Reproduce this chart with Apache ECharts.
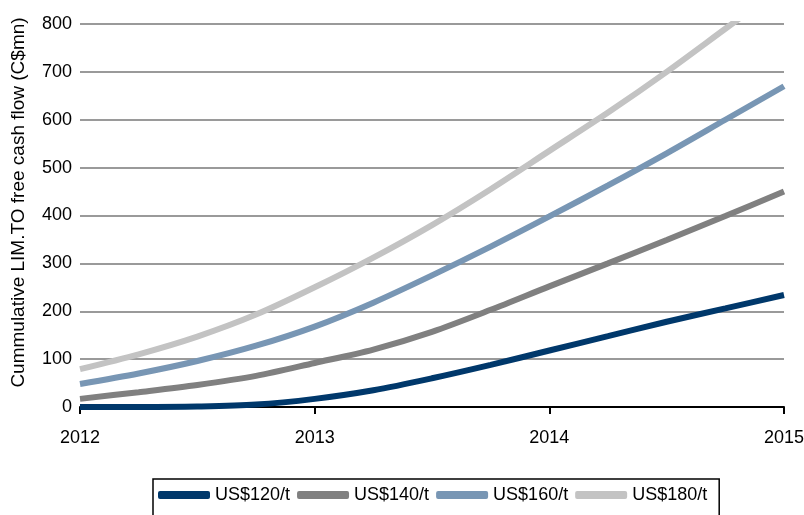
<!DOCTYPE html>
<html>
<head>
<meta charset="utf-8">
<script src="https://cdn.jsdelivr.net/npm/echarts@6/dist/echarts.min.js"></script>
<style>
  html, body { margin: 0; padding: 0; background: #fff; }
  #chart { width: 804px; height: 515px; }
</style>
</head>
<body>
<div id="chart"></div>
<script>
// quarterly points, years on the x axis
const quarters = [2012, 2012.25, 2012.5, 2012.75, 2013, 2013.25, 2013.5, 2013.75, 2014, 2014.25, 2014.5, 2014.75, 2015]
const us120 = [0, 0, 1, 5, 17, 35, 60, 88, 118, 148, 178, 206, 234]
const us140 = [17, 31, 46, 65, 92, 120, 157, 203, 252, 300, 349, 399, 450]
const us160 = [48, 70, 96, 128, 168, 218, 275, 335, 398, 463, 530, 600, 670]
const us180 = [79, 110, 147, 193, 250, 312, 380, 455, 535, 615, 700, 790, 880]
const seriesNames = ['US$120/t', 'US$140/t', 'US$160/t', 'US$180/t']
const yTicks = [0, 100, 200, 300, 400, 500, 600, 700, 800]

const font = '"Liberation Sans", Arial, sans-serif'

let chart = echarts.init(document.getElementById('chart'))

function pairs(vals) {
    return quarters.map((q, i) => [q, vals[i]])
}

function lineSeries(name, vals, color) {
    return {
        name: name,
        type: 'line',
        data: pairs(vals),
        smooth: 0.3,
        symbol: 'none',
        clip: true,
        lineStyle: { width: 6, color: color },
        itemStyle: { color: color },
    }
}

let option = {
    animation: false,
    grid: { left: 80, right: 20, top: 24, bottom: 108, outerBoundsMode: 'none', containLabel: false },
    legend: {
        left: 153,
        top: 479,
        padding: [7, 12, 30, 5],
        borderColor: '#000',
        borderWidth: 1.5,
        itemWidth: 52,
        itemHeight: 8,
        itemGap: 7,
        icon: 'roundRect',
        textStyle: { fontFamily: font, fontSize: 18, color: '#000' },
        data: seriesNames,
    },
    xAxis: {
        type: 'value',
        min: 2012,
        max: 2015,
        interval: 1,
        splitLine: { show: false },
        axisLine: { show: true, lineStyle: { color: '#000', width: 2 } },
        axisTick: { show: true, length: 7, lineStyle: { color: '#000', width: 2 } },
        axisLabel: {
            margin: 22,
            fontFamily: font,
            fontSize: 18,
            color: '#000',
            formatter: v => String(v),
        },
    },
    yAxis: {
        type: 'value',
        min: yTicks[0],
        max: yTicks[yTicks.length - 1],
        interval: 100,
        name: 'Cummulative LIM.TO free cash flow (C$mn)',
        nameLocation: 'middle',
        nameGap: 52,
        nameTextStyle: {
            fontFamily: font,
            fontSize: 19,
            color: '#000',
            padding: [0, 0, 0, 26],
        },
        axisLine: { show: false },
        axisTick: { show: false },
        splitLine: { show: true, lineStyle: { color: '#9a9a9a', width: 2 } },
        axisLabel: { margin: 8, fontFamily: font, fontSize: 18, color: '#000' },
    },
    series: [
        lineSeries(seriesNames[0], us120, '#00386b'),
        lineSeries(seriesNames[1], us140, '#808080'),
        lineSeries(seriesNames[2], us160, '#7896b4'),
        lineSeries(seriesNames[3], us180, '#c3c3c3'),
    ],
}
chart.setOption(option)
</script>
</body>
</html>
